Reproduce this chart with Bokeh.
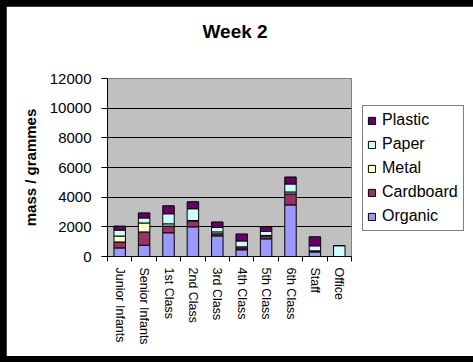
from bokeh.plotting import figure
from bokeh.models import (ColumnDataSource, FixedTicker, Range1d, Legend, LegendItem, Title)
from bokeh.embed import file_html
from bokeh.resources import INLINE

categories = ["Junior Infants", "Senior Infants", "1st Class", "2nd Class", "3rd Class",
              "4th Class", "5th Class", "6th Class", "Staff", "Office"]
organic = [580, 760, 1600, 2000, 1390, 450, 1190, 3480, 310, 0]
cardboard = [400, 900, 450, 380, 140, 130, 200, 740, 50, 0]
metal = [400, 600, 150, 50, 130, 70, 30, 130, 20, 0]
paper = [400, 340, 680, 790, 310, 400, 270, 540, 340, 730]
plastic = [270, 340, 540, 470, 360, 470, 320, 470, 610, 0]

series_names = ["Organic", "Cardboard", "Metal", "Paper", "Plastic"]
series_colors = ["#9999FF", "#993366", "#FFFFCC", "#CCFFFF", "#660066"]
y_ticks = [0, 2000, 4000, 6000, 8000, 10000, 12000]

FONT = "Liberation Sans"

xs = [i + 0.5 for i in range(len(categories))]
source = ColumnDataSource(data=dict(x=xs, Organic=organic, Cardboard=cardboard,
                                    Metal=metal, Paper=paper, Plastic=plastic))

p = figure(output_backend="svg", toolbar_location=None,
           frame_width=244, frame_height=178,
           min_border_left=101, min_border_right=116, min_border_top=72, min_border_bottom=100,
           x_range=Range1d(0, len(categories)), y_range=Range1d(0, 12000),
           background_fill_color="#C0C0C0", border_fill_color="white",
           title=None)

# spacer between frame and title
p.add_layout(Title(text=" ", text_font_size="18px", standoff=4), "above")
p.add_layout(Title(text="Week 2", align="left", offset=95, text_font=FONT,
                   text_font_size="19px", text_font_style="bold", text_color="black",
                   standoff=22), "above")

p.outline_line_color = "#808080"
p.outline_line_width = 1

renderers = p.vbar_stack(series_names, x="x", width=0.47, source=source,
                         fill_color=series_colors, line_color="black", line_width=1)

# grid
p.xgrid.visible = False
p.ygrid.ticker = FixedTicker(ticks=y_ticks[1:-1])
p.ygrid.grid_line_color = "black"
p.ygrid.grid_line_width = 1

# y axis
p.yaxis.ticker = FixedTicker(ticks=y_ticks)
p.yaxis.axis_line_color = "black"
p.yaxis.major_tick_line_color = "black"
p.yaxis.major_tick_out = 6
p.yaxis.major_tick_in = 0
p.yaxis.minor_tick_line_color = None
p.yaxis.major_label_text_font = FONT
p.yaxis.major_label_text_font_size = "15px"
p.yaxis.major_label_text_color = "black"
p.yaxis.major_label_standoff = 10
p.yaxis.axis_label = "mass / grammes"
p.yaxis.axis_label_text_font = FONT
p.yaxis.axis_label_text_font_size = "15px"
p.yaxis.axis_label_text_font_style = "bold"
p.yaxis.axis_label_text_color = "black"
p.yaxis.axis_label_standoff = 8

# x axis
p.xaxis.ticker = FixedTicker(ticks=xs, minor_ticks=list(range(len(categories) + 1)))
p.xaxis.major_label_overrides = {x: c for x, c in zip(xs, categories)}
p.xaxis.major_label_orientation = "vertical"
p.xaxis.axis_line_color = "black"
p.xaxis.major_tick_out = 0
p.xaxis.major_tick_in = 0
p.xaxis.minor_tick_out = 5
p.xaxis.minor_tick_in = 0
p.xaxis.minor_tick_line_color = "black"
p.xaxis.major_label_text_font = FONT
p.xaxis.major_label_text_font_size = "12.5px"
p.xaxis.major_label_text_color = "black"
p.xaxis.major_label_standoff = 6

# legend (reverse order: Plastic on top)
items = [LegendItem(label=n, renderers=[r]) for n, r in zip(series_names, renderers)][::-1]
legend = Legend(items=items, location=(11, 25), orientation="vertical",
                border_line_color="black", border_line_width=1,
                background_fill_color="white", background_fill_alpha=1,
                padding=4, spacing=4, margin=0,
                glyph_width=9, glyph_height=9, label_standoff=6, label_height=20,
                label_width=77,
                label_text_font=FONT, label_text_font_size="16px", label_text_color="black")
p.add_layout(legend, "right")

html = file_html(p, INLINE)
style = ("<style>html, body { background-color: #000000 !important; } "
         "body { margin: 0 !important; padding: 6px !important; }</style>")
html = html.replace("</head>", style + "</head>", 1)
open("out.html", "w").write(html)
